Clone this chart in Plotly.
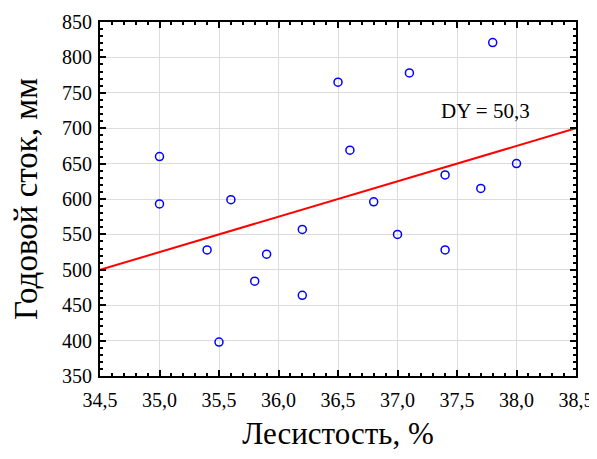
import plotly.graph_objects as go

# Data
forest_pct = [35.0, 35.0, 35.4, 35.5, 35.6, 35.8, 35.9, 36.2, 36.2, 36.5,
              36.6, 36.8, 37.0, 37.1, 37.4, 37.4, 37.7, 37.8, 38.0]
runoff_mm = [660, 593, 528, 398, 599, 484, 522, 557, 464, 765,
             669, 596, 550, 778, 634, 528, 615, 821, 650]

fit_x = [34.5, 38.5]
fit_y = [500, 700]

x_ticks = [34.5, 35.0, 35.5, 36.0, 36.5, 37.0, 37.5, 38.0, 38.5]
x_tick_labels = ["34,5", "35,0", "35,5", "36,0", "36,5", "37,0", "37,5", "38,0", "38,5"]
y_ticks = [350, 400, 450, 500, 550, 600, 650, 700, 750, 800, 850]

annotation_text = "DY = 50,3"

FONT = "Liberation Serif, serif"

fig = go.Figure()
fig.add_trace(go.Scatter(
    x=fit_x, y=fit_y, mode="lines",
    line=dict(color="#ff0000", width=2), showlegend=False, hoverinfo="skip"))
fig.add_trace(go.Scatter(
    x=forest_pct, y=runoff_mm, mode="markers",
    marker=dict(symbol="circle-open", size=8, color="#0000ff", line=dict(width=1.5, color="#0000ff")),
    showlegend=False))

fig.add_annotation(x=37.74, y=724, text=annotation_text, showarrow=False,
                   font=dict(family=FONT, size=21, color="black"))

fig.update_xaxes(
    range=[34.5, 38.5], tickvals=x_ticks, ticktext=x_tick_labels,
    showline=True, linecolor="black", linewidth=2, mirror="ticks",
    ticks="inside", ticklen=6, tickwidth=1.5, tickcolor="black",
    showgrid=True, gridcolor="#dcdcdc", gridwidth=1, zeroline=False,
    tickfont=dict(family=FONT, size=20, color="black"),
    ticklabelstandoff=5, ticklabeloverflow="allow",
    minor=dict(dtick=0.1, ticks="inside", ticklen=3, tickwidth=1.5, tickcolor="black", showgrid=False),
    title=dict(text="Лесистость, %", font=dict(family=FONT, size=31, color="black"), standoff=22),
    automargin=False)
fig.update_yaxes(
    range=[350, 850], tickvals=y_ticks,
    showline=True, linecolor="black", linewidth=2, mirror="ticks",
    ticks="inside", ticklen=6, tickwidth=1.5, tickcolor="black",
    showgrid=True, gridcolor="#dcdcdc", gridwidth=1, zeroline=False,
    tickfont=dict(family=FONT, size=20, color="black"),
    ticklabelstandoff=2,
    minor=dict(dtick=10, ticks="inside", ticklen=3, tickwidth=1.5, tickcolor="black", showgrid=False),
    title=dict(text="Годовой сток, мм", font=dict(family=FONT, size=33, color="black"), standoff=20),
    automargin=False)

# the page adds an 8px body margin, so the figure is sized and placed to compensate
fig.update_layout(
    width=589, height=443,
    margin=dict(l=92, r=21, t=14, b=75),
    plot_bgcolor="white", paper_bgcolor="white",
    font=dict(family=FONT, size=20, color="black"),
)

fig.write_html("out.html")
